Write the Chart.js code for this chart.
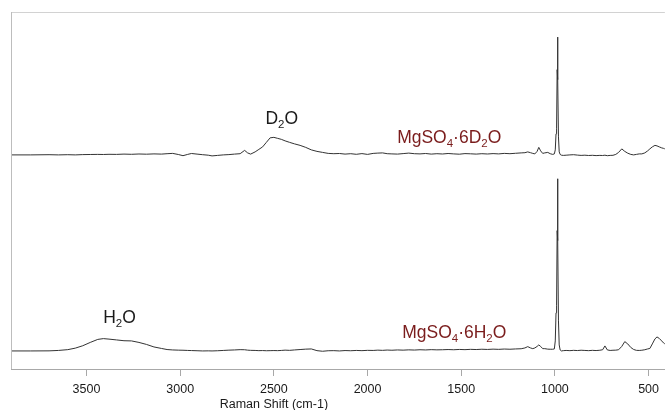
<!DOCTYPE html>
<html>
<head>
<meta charset="utf-8">
<script src="https://cdn.jsdelivr.net/npm/chart.js@4.4.1/dist/chart.umd.min.js"></script>
<style>
  html, body { margin: 0; padding: 0; background: #ffffff; }
  #wrap { width: 665px; height: 410px; position: relative; }
</style>
</head>
<body>
<div id="wrap"><canvas id="raman"></canvas></div>
<script>
/* --------------- Raman shift grid (cm-1), high to low --------------- */
var wavenumbers = [
  3900, 3800, 3700, 3650, 3600, 3560, 3520, 3480, 3440, 3410,
  3380, 3340, 3300, 3260, 3220, 3180, 3140, 3100, 3070, 3040,
  3010, 2985, 2960, 2940, 2910, 2880, 2850, 2830, 2800, 2770,
  2740, 2710, 2680, 2656, 2640, 2624, 2600, 2580, 2560, 2540,
  2520, 2500, 2480, 2460, 2440, 2416, 2390, 2360, 2330, 2300,
  2270, 2240, 2210, 2180, 2150, 2120, 2090, 2060, 2030, 2000,
  1970, 1945, 1920, 1895, 1870, 1840, 1810, 1780, 1750, 1720,
  1690, 1660, 1630, 1600, 1570, 1540, 1510, 1480, 1450, 1420,
  1390, 1360, 1330, 1300, 1270, 1240, 1210, 1180, 1160, 1145,
  1130, 1118, 1107, 1095, 1086, 1076, 1065, 1054, 1038, 1025,
  1012, 1003, 998, 994, 991, 988, 986, 984, 981, 977,
  972, 965, 955, 940, 920, 900, 880, 860, 840, 820,
  800, 780, 760, 745, 733, 720, 705, 690, 675, 660,
  643, 627, 611, 595, 580, 565, 550, 536, 520, 505,
  493, 480, 466, 455, 443, 430, 420, 413
];

/* --------------- MgSO4.6D2O intensity (a.u.) --------------- */
var d2oSpectrum = [
  0, 0, 0.2, 0, 0.2, 0, 0.3, 0.4, 0.5, 0.4,
  0.6, 0.5, 0.8, 0.6, 0.9, 0.7, 1.0, 0.8, 1.2, 1.5,
  0.4, -0.8, 0.5, 1.4, 0.8, 0.2, -0.3, -1.0, -0.5, 0,
  0.3, 0.8, 1.2, 4.5, 2, 0.8, 3, 5.5, 8, 12.5,
  17, 17.5, 16.5, 15.5, 14, 12.5, 11, 9.5, 7.5, 5,
  3.5, 2.5, 1.5, 1.2, 1.4, 0.8, 1.2, 0.6, 1.3, 0.5,
  1.5, 1.8, 2, 1.2, 1.0, 0.8, 1.3, 1.8, 1.2, 1.0,
  1.4, 0.8, 1.2, 0.9, 1.4, 1.0, 0.7, 1.3, 1.1, 0.8,
  1.2, 0.9, 1.3, 1.0, 1.5, 1.2, 1.6, 2.0, 2.2, 3,
  2.2, 1.5, 1.0, 3.5, 7.5, 4, 1.5, 2.0, 2.5, 1.2,
  0.5, 1.0, 5, 21, 26, 85, 117.5, 75, 18, 3,
  0.5, -0.3, -0.5, -0.3, 0, 0.2, -0.2, -0.5, -0.3, -0.6,
  -0.4, -0.7, -0.5, -0.6, -0.3, -0.8, -0.5, -0.4, 0.5, 2.5,
  6, 3.5, 1.7, 0.5, 0, 0.5, 1, 1, 2, 4,
  6, 8, 9.5, 9, 8, 7, 6.5, 6
];

/* --------------- MgSO4.6H2O intensity (a.u.) --------------- */
var h2oSpectrum = [
  0, 0, 0.1, 0.5, 1.3, 2.8, 5.2, 8.5, 11.5, 12.3,
  11.8, 11, 10.2, 10, 8.5, 6.5, 4, 2.5, 1.4, 1.0,
  0.8, 0.7, 0.5, 0.4, 0.2, 0, 0.1, 0, 0.2, 0.5,
  0.8, 1.0, 1.3, 1.2, 0.8, 0.6, 0.5, 0.3, 0.4, 0.2,
  0.3, 0.4, 0.3, 0.5, 0.8, 0.6, 1.0, 1.4, 1.8, 2,
  0.3, -0.3, 0.2, 0.3, 0, 0.4, 0.2, 0.5, 0.3, 0.6,
  0.5, 0.8, 0.6, 0.9, 0.7, 1.0, 0.8, 1.1, 0.9, 1.2,
  1.0, 1.3, 1.1, 1.2, 1.4, 1.2, 1.5, 1.3, 1.6, 1.4,
  1.7, 1.5, 1.8, 1.6, 1.9, 1.7, 2.0, 2.2, 3, 4.3,
  3, 2.3, 3, 4.5, 6, 4.5, 2.3, 2.3, 1.8, 1.7,
  1.7, 2, 10, 38, 45, 120, 171.7, 110, 30, 6,
  1, 0, 0.3, 0.5, 0.3, 0.6, 0.4, 0.7, 0.5, 0.3,
  0.6, 0.4, 0.7, 1.2, 5, 1.0, 0.5, 0.7, 0.8, 1.2,
  4.5, 9.3, 7, 3.5, 1.5, 0.6, 0.5, 0.7, 1.2, 2,
  2.5, 7, 12, 14, 12.5, 10, 8, 7
];

/* --------------- stacking offsets and axis ticks --------------- */
var d2oOffset = 213.5;
var h2oOffset = 18;
var xTicks = [3500, 3000, 2500, 2000, 1500, 1000, 500];

/* --------------- text labels: parts, wavenumber, height, colour --------------- */
// parts: [string, isSubscript]
var labels = [
  { parts: [["D", 0], ["2", 1], ["O", 0]], x: 2458, y: 244, color: "#1a1a1a" },
  { parts: [["MgSO", 0], ["4", 1], ["\u00b76D", 0], ["2", 1], ["O", 0]], x: 1564, y: 225.5, color: "#7a1c1c" },
  { parts: [["H", 0], ["2", 1], ["O", 0]], x: 3324, y: 46, color: "#1a1a1a" },
  { parts: [["MgSO", 0], ["4", 1], ["\u00b76H", 0], ["2", 1], ["O", 0]], x: 1537, y: 30.7, color: "#7a1c1c" }
];

const toPoints = (vals, offset) => vals.map((v, i) => ({ x: wavenumbers[i], y: v + offset }));

const FONT = "'Liberation Sans', Arial, sans-serif";

/* --------------- borders, labels and axis title --------------- */
const decorPlugin = {
  id: "decor",
  afterDraw(chart) {
    const ctx = chart.ctx;
    const area = chart.chartArea;
    const xs = chart.scales.x;
    const ys = chart.scales.y;
    ctx.save();
    // top frame line
    ctx.strokeStyle = "#d2d2d2";
    ctx.lineWidth = 1;
    ctx.beginPath();
    ctx.moveTo(area.left, area.top + 0.5);
    ctx.lineTo(area.right, area.top + 0.5);
    ctx.stroke();
    // left frame line
    ctx.strokeStyle = "#bdbdbd";
    ctx.beginPath();
    ctx.moveTo(area.left + 0.5, area.top);
    ctx.lineTo(area.left + 0.5, area.bottom);
    ctx.stroke();

    // peak labels with subscripts
    ctx.textBaseline = "alphabetic";
    ctx.textAlign = "left";
    for (let lab of labels) {
      let w = 0;
      for (let p of lab.parts) {
        ctx.font = (p[1] ? "11.5px " : "17.5px ") + FONT;
        w += ctx.measureText(p[0]).width;
      }
      let px = xs.getPixelForValue(lab.x) - w / 2;
      let py = ys.getPixelForValue(lab.y);
      ctx.fillStyle = lab.color;
      for (let p of lab.parts) {
        ctx.font = (p[1] ? "11.5px " : "17.5px ") + FONT;
        ctx.fillText(p[0], px, p[1] ? py + 4 : py);
        px += ctx.measureText(p[0]).width;
      }
    }

    // axis title
    ctx.font = "12.5px " + FONT;
    ctx.fillStyle = "#1a1a1a";
    ctx.textAlign = "center";
    ctx.fillText("Raman Shift (cm-1)", xs.getPixelForValue(2500), area.bottom + 39);
    ctx.restore();
  }
};

let ramanChart = new Chart(document.getElementById("raman"), {
  type: "line",
  plugins: [decorPlugin],
  data: {
    datasets: [
      {
        label: "MgSO4.6D2O",
        data: toPoints(d2oSpectrum, d2oOffset),
        borderColor: "#333333",
        borderWidth: 1,
        pointRadius: 0,
        tension: 0,
        fill: false
      },
      {
        label: "MgSO4.6H2O",
        data: toPoints(h2oSpectrum, h2oOffset),
        borderColor: "#333333",
        borderWidth: 1,
        pointRadius: 0,
        tension: 0,
        fill: false
      }
    ]
  },
  options: {
    responsive: true,
    maintainAspectRatio: false,
    animation: false,
    layout: { padding: { left: 11, top: 12, right: 0, bottom: 7 } },
    plugins: {
      legend: { display: false },
      tooltip: { enabled: false }
    },
    scales: {
      x: {
        type: "linear",
        reverse: true,
        min: 413,
        max: 3903,
        afterBuildTicks: (scale) => {
          scale.ticks = xTicks.map((v) => ({ value: v }));
        },
        ticks: {
          autoSkip: false,
          maxRotation: 0,
          padding: 6,
          color: "#1a1a1a",
          font: { family: FONT, size: 12.5 },
          callback: (v) => String(v)
        },
        grid: {
          display: true,
          drawOnChartArea: false,
          drawTicks: true,
          tickLength: 7,
          color: "#a8a8a8"
        },
        border: { display: true, color: "#a8a8a8", width: 1 }
      },
      y: {
        display: false,
        min: 0,
        max: 356
      }
    }
  }
});
</script>
</body>
</html>
